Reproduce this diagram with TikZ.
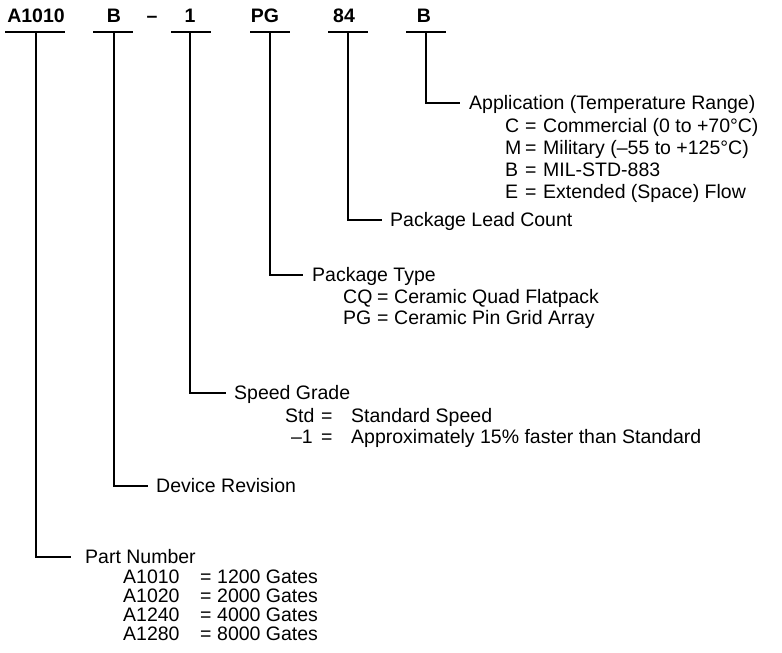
\documentclass[tikz,border=0pt]{standalone}
\usepackage{fontspec}
\setmainfont{Liberation Sans}
\newcommand\fsz{\fontsize{19.5}{22}\selectfont}
\tikzset{
  lbl/.style={anchor=base west, inner sep=0pt, font=\fsz},
  toplbl/.style={anchor=base, inner sep=0pt, font=\fsz\bfseries},
  ln/.style={line width=1.2pt},
  barln/.style={line width=1.1pt}
}
\begin{document}
\begin{tikzpicture}[x=1pt,y=-1pt]
\useasboundingbox (0,0) rectangle (782,653);
% top labels
\node[toplbl] (nA)  at (36,22)  {A1010};
\node[toplbl] (nB)  at (114,22) {B};
\node[toplbl] (nD)  at (152,22) {\textendash};
\node[toplbl] (n1)  at (190,22) {1};
\node[toplbl] (nPG) at (265,22) {PG};
\node[toplbl] (n84) at (344,22) {84};
\node[toplbl] (nB2) at (424,22) {B};
% bars
\draw[barln] (5,32) -- (65,32);
\draw[barln] (93,32) -- (133,32);
\draw[barln] (171,32) -- (211,32);
\draw[barln] (250,32) -- (290,32);
\draw[barln] (328,32) -- (368,32);
\draw[barln] (406,32) -- (446,32);
\coordinate (vA) at (36,32);
\coordinate (vB) at (114,32);
\coordinate (v1) at (190,32);
\coordinate (vPG) at (270,32);
\coordinate (v84) at (348,32);
\coordinate (vB2) at (426,32);
% Application
\coordinate (eApp) at (460,103);
\node[lbl] (app) at (469,109) {Application (Temperature Range)};
\node[lbl] (aC) at (505,132) {C};  \node[lbl] (aCe) at (525,132) {=}; \node[lbl] (aCv) at (543,132) {Commercial (0 to +70°C)};
\node[lbl] (aM) at (505,154) {M};  \node[lbl] (aMe) at (525,154) {=}; \node[lbl] (aMv) at (543,154) {Military (\textendash55 to +125°C)};
\node[lbl] (aB) at (505,176) {B};  \node[lbl] (aBe) at (525,176) {=}; \node[lbl] (aBv) at (543,176) {MIL-STD-883};
\node[lbl] (aE) at (505,198) {E};  \node[lbl] (aEe) at (525,198) {=}; \node[lbl] (aEv) at (543,198) {Extended (Space) Flow};
\draw[ln] (vB2) |- (eApp);
% Package Lead Count
\coordinate (eLead) at (382,220);
\node[lbl] (lead) at (390,226) {Package Lead Count};
\draw[ln] (v84) |- (eLead);
% Package Type
\coordinate (eType) at (303,275);
\node[lbl] (ptype) at (312,281) {Package Type};
\node[lbl] (pCQ) at (343,303) {CQ}; \node[lbl] (pCQe) at (377,303) {=}; \node[lbl] (pCQv) at (394,303) {Ceramic Quad Flatpack};
\node[lbl] (pPG) at (343,324) {PG}; \node[lbl] (pPGe) at (377,324) {=}; \node[lbl] (pPGv) at (394,324) {Ceramic Pin Grid Array};
\draw[ln] (vPG) |- (eType);
% Speed Grade
\coordinate (eSpeed) at (226,393);
\node[lbl] (speed) at (234,399) {Speed Grade};
\node[lbl] (sStd) at (285,422) {Std}; \node[lbl] (sStde) at (321,422) {=}; \node[lbl] (sStdv) at (351,422) {Standard Speed};
\node[lbl,anchor=base east] (s1) at (313,443) {\textendash1}; \node[lbl] (s1e) at (321,443) {=}; \node[lbl] (s1v) at (351,443) {Approximately 15\% faster than Standard};
\draw[ln] (v1) |- (eSpeed);
% Device Revision
\coordinate (eRev) at (148,486);
\node[lbl] (rev) at (156,492) {Device Revision};
\draw[ln] (vB) |- (eRev);
% Part Number
\coordinate (ePart) at (71,557);
\node[lbl] (part) at (85,563) {Part Number};
\node[lbl] (p1) at (123,583) {A1010}; \node[lbl] (p1e) at (200,583) {=}; \node[lbl] (p1v) at (217,583) {1200 Gates};
\node[lbl] (p2) at (123,602) {A1020}; \node[lbl] (p2e) at (200,602) {=}; \node[lbl] (p2v) at (217,602) {2000 Gates};
\node[lbl] (p3) at (123,621) {A1240}; \node[lbl] (p3e) at (200,621) {=}; \node[lbl] (p3v) at (217,621) {4000 Gates};
\node[lbl] (p4) at (123,640) {A1280}; \node[lbl] (p4e) at (200,640) {=}; \node[lbl] (p4v) at (217,640) {8000 Gates};
\draw[ln] (vA) |- (ePart);
\end{tikzpicture}
\end{document}
